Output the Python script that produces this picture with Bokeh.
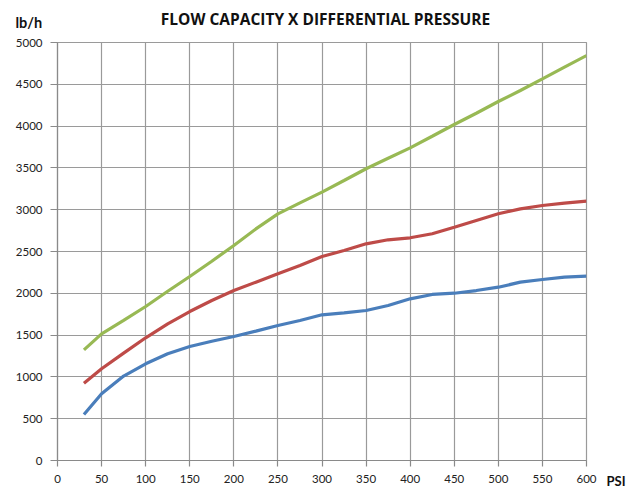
from bokeh.plotting import figure
from bokeh.models import Range1d, SingleIntervalTicker, Label
from bokeh.embed import file_html
from bokeh.resources import INLINE

psi = [30, 50, 75, 100, 125, 150, 175, 200, 225, 250, 275, 300, 325, 350,
       375, 400, 425, 450, 475, 500, 525, 550, 575, 600]
flow_blue = [550, 798, 1010, 1157, 1276, 1364, 1427, 1483, 1547, 1615, 1675, 1743, 1765, 1794,
             1854, 1934, 1986, 2001, 2033, 2073, 2133, 2165, 2193, 2205]
flow_red = [925, 1097, 1284, 1468, 1635, 1782, 1914, 2033, 2133, 2233, 2333, 2440, 2512, 2592,
            2640, 2664, 2712, 2791, 2871, 2951, 3010, 3050, 3078, 3102]
flow_green = [1324, 1515, 1675, 1842, 2025, 2201, 2384, 2572, 2770, 2950, 3082, 3210, 3349, 3490,
              3616, 3740, 3879, 4019, 4154, 4294, 4426, 4565, 4705, 4844]

title_text = "FLOW CAPACITY X DIFFERENTIAL PRESSURE"
y_unit = "lb/h"
x_unit = "PSI"

FONT = "Lato"
GRID = "#9a9a9a"

p = figure(frame_width=529, frame_height=418, output_backend="svg", toolbar_location=None,
           x_range=Range1d(0, 600), y_range=Range1d(0, 5000),
           min_border_left=57, min_border_right=50, min_border_top=42, min_border_bottom=28)
p.title.visible = False
p.background_fill_color = "white"
p.border_fill_color = "white"
p.outline_line_color = GRID
p.outline_line_width = 1.2

p.xaxis.ticker = SingleIntervalTicker(interval=50)
p.yaxis.ticker = SingleIntervalTicker(interval=500)
for ax in (p.xaxis, p.yaxis):
    ax.axis_line_color = "#8a8a8a"
    ax.axis_line_width = 1.2
    ax.major_tick_line_color = "#8a8a8a"
    ax.major_tick_line_width = 1.2
    ax.major_tick_in = 0
    ax.minor_tick_line_color = None
    ax.major_label_text_font = FONT
    ax.major_label_text_font_size = "11.5px"
    ax.major_label_text_color = "#222222"
p.xaxis.major_tick_out = 6
p.xaxis.major_label_standoff = 8
p.yaxis.major_tick_out = 7
p.yaxis.major_label_standoff = 8

for g in (p.xgrid, p.ygrid):
    g.grid_line_color = GRID
    g.grid_line_width = 1.2

p.line(psi, flow_blue, line_color="#4A7EBB", line_width=3.2)
p.line(psi, flow_red, line_color="#BE4B48", line_width=3.2)
p.line(psi, flow_green, line_color="#98B954", line_width=3.2)

p.add_layout(Label(x=325, y=18, x_units="canvas", y_units="canvas", text=title_text,
                   text_font="Open Sans", text_font_style="bold", text_font_size="15.5px",
                   text_align="center", text_baseline="alphabetic", text_color="#111111"),
             "above")
p.add_layout(Label(x=15, y=22, x_units="canvas", y_units="canvas", text=y_unit,
                   text_font=FONT, text_font_style="bold", text_font_size="14.5px",
                   text_align="left", text_baseline="alphabetic", text_color="#111111"),
             "above")
p.add_layout(Label(x=606, y=480, x_units="canvas", y_units="canvas", text=x_unit,
                   text_font=FONT, text_font_style="bold", text_font_size="13px",
                   text_align="left", text_baseline="alphabetic", text_color="#111111"),
             "right")

open("out.html", "w").write(file_html(p, INLINE))
